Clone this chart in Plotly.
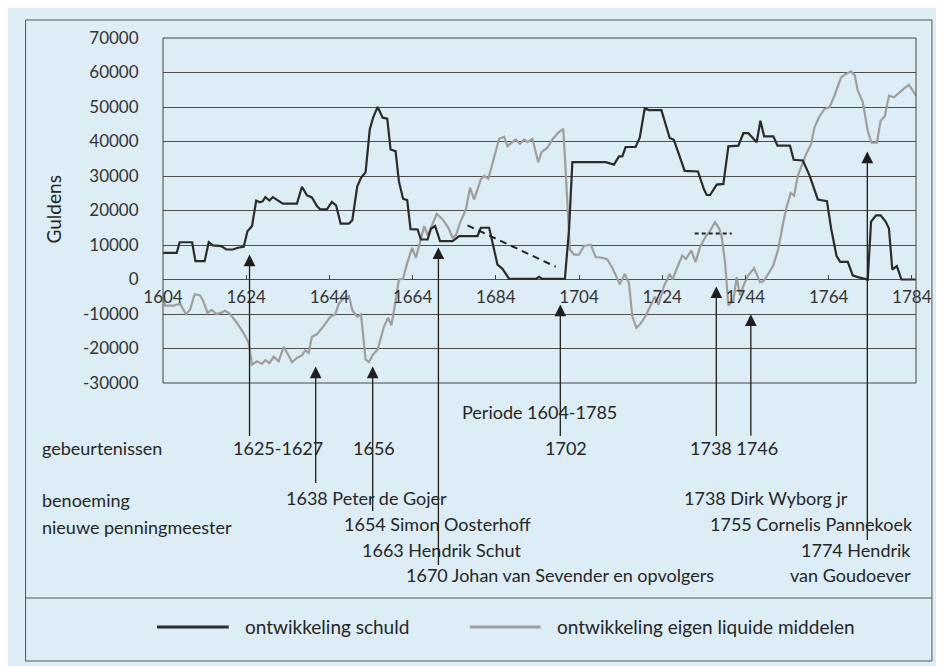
import plotly.graph_objects as go

# ---------------- data ----------------
schuld_years = [1604, 1607.3, 1608, 1611, 1611.8, 1614, 1615, 1616, 1618, 1619.2, 1620.8, 1622, 1623.4,
                1624.3, 1625.4, 1626.4, 1627.3, 1628, 1628.6, 1629.6, 1630.4, 1631.6, 1632.8, 1636.2,
                1637.4, 1638.6, 1639.8, 1641, 1641.8, 1643.4, 1644.6, 1645.6, 1646.7, 1648.7, 1649.5,
                1650.7, 1651.6, 1652.7, 1653.7, 1654.5, 1655.6, 1656.8, 1657.9, 1658.7, 1659.9, 1660.7,
                1661.7, 1662.7, 1663.5, 1665.2, 1666, 1667.6, 1668.4, 1669.4, 1670.6, 1673.6, 1675.2,
                1679.6, 1680.4, 1682.4, 1683.2, 1684.4, 1685.6, 1687.2, 1693.6, 1694.4, 1695.2, 1700.6,
                1701.6, 1702.4, 1710.4, 1712.4, 1713.6, 1714.4, 1715.2, 1717.6, 1718.6, 1719.8, 1720.8,
                1723.8, 1725.8, 1726.8, 1729.4, 1732.6, 1734, 1734.7, 1735.5, 1737.1, 1738.7, 1739.9,
                1742.3, 1743.5, 1744.7, 1746.7, 1747.6, 1748.5, 1750.7, 1751.7, 1754.7, 1755.6, 1757.8,
                1759.4, 1761.4, 1763.6, 1764.6, 1765.9, 1766.8, 1768.6, 1769.8, 1771, 1773.4, 1774.2,
                1775.4, 1776.5, 1777.7, 1778.5, 1779.3, 1780.4, 1781.5, 1785]
schuld_values = [7700, 7700, 10800, 10800, 5300, 5300, 10800, 9900, 9700, 8700, 8700, 9200, 9500,
                 14000, 15500, 22900, 22400, 22700, 23900, 22900, 23900, 22900, 22000, 22000,
                 26900, 24400, 23800, 21300, 20300, 20300, 22500, 21500, 16200, 16200, 17200,
                 27000, 29500, 31100, 43500, 46900, 50000, 46900, 46600, 37700, 37200, 28500,
                 23400, 23000, 14600, 14500, 11600, 11600, 14700, 15500, 11100, 11100, 12600,
                 12600, 15000, 15000, 10600, 4300, 3100, 200, 200, 800, 200, 200,
                 14500, 34000, 34000, 33300, 35700, 35700, 38400, 38400, 41100, 49600, 49100,
                 49100, 41000, 40500, 31500, 31300, 26200, 24500, 24500, 27500, 27700, 38600,
                 38800, 42400, 42400, 39800, 46000, 41500, 41500, 38800, 38800, 34700, 34500,
                 30200, 23200, 22700, 14800, 6800, 5100, 5100, 1200, 700, 0, 16800,
                 18600, 18600, 16800, 14800, 2900, 3900, 0, 0]

liquide_years = [1604, 1604.5, 1606.5, 1608.1, 1609.5, 1610.5, 1611.6, 1612.9, 1613.7, 1614.7, 1615.7,
                 1616.9, 1618.1, 1618.9, 1620.1, 1621.8, 1623.4, 1624.6, 1625.4, 1626.6, 1627.8, 1628.6,
                 1629.6, 1630.6, 1631.8, 1633.0, 1634.2, 1635.0, 1636.2, 1637.4, 1638.2, 1639.0, 1639.8,
                 1641.0, 1642.6, 1644.2, 1645.4, 1646.2, 1647.4, 1648.7, 1649.5, 1650.7, 1651.6, 1652.7,
                 1653.5, 1654.5, 1655.6, 1657.1, 1658.1, 1658.9, 1659.9, 1660.7, 1661.7, 1662.7, 1663.9,
                 1664.8, 1666.8, 1667.6, 1668.6, 1669.8, 1671.2, 1672.6, 1673.6, 1674.4, 1675.4, 1676.8,
                 1677.8, 1678.8, 1680.4, 1681.2, 1682.2, 1683.6, 1684.8, 1686.0, 1686.8, 1688.0, 1688.8,
                 1689.8, 1690.8, 1691.6, 1692.8, 1694.2, 1695.0, 1696.4, 1697.6, 1699.0, 1700.2, 1700.6,
                 1701.2, 1701.8, 1702.8, 1704.0, 1705.2, 1706.8, 1708.0, 1709.6, 1710.8, 1712.0, 1713.8,
                 1715.0, 1716.0, 1716.8, 1717.8, 1718.8, 1720.0, 1721.0, 1722.2, 1723.1, 1724.4, 1725.8,
                 1726.5, 1727.6, 1728.8, 1729.7, 1731.0, 1732.0, 1733.2, 1734.4, 1735.3, 1736.7, 1737.7,
                 1738.3, 1739.1, 1739.9, 1741.1, 1741.9, 1742.7, 1743.7, 1744.7, 1746.1, 1747.5, 1748.3,
                 1749.5, 1750.7, 1751.9, 1753.1, 1753.9, 1754.9, 1755.7, 1756.6, 1757.6, 1758.6, 1759.8,
                 1760.6, 1761.8, 1763.0, 1764.2, 1765.4, 1767.0, 1768.2, 1769.4, 1770.3, 1771.0, 1772.2,
                 1773.4, 1774.3, 1775.6, 1776.5, 1777.5, 1778.5, 1779.7, 1780.9, 1782.1, 1783.3, 1784.1,
                 1785]
liquide_values = [-3900, -7600, -7600, -7000, -10000, -8800, -4200, -4600, -6300, -9700, -8800,
                  -10000, -9600, -9000, -10000, -12600, -15600, -18400, -24700, -23700, -24400, -23400,
                  -24200, -22400, -23700, -19500, -22000, -24000, -22700, -22000, -20500, -21300, -16600,
                  -15900, -13500, -10800, -10100, -7200, -5300, -4800, -8900, -10800, -10100, -23200,
                  -23900, -21700, -20300, -13700, -11100, -13300, -6300, 0, 200, 4800, 9200,
                  6300, 15500, 12800, 15500, 19000, 17400, 15000, 12100, 12800, 16400, 20300,
                  26600, 23200, 29000, 30000, 29200, 35300, 40800, 41400, 38600, 39800, 40600,
                  39300, 40600, 39800, 40800, 34000, 36900, 38200, 40600, 42500, 43700, 35700,
                  21700, 8700, 7200, 7200, 9700, 10100, 6500, 6300, 5800, 3400, -1400,
                  1600, -1000, -10600, -14000, -12800, -10600, -8200, -5000, -7300, -2000, 1600,
                  0, 3500, 6900, 6000, 8400, 5000, 9800, 12300, 13700, 16600, 14700,
                  12300, 5000, -7500, -6100, 700, -4600, -1300, 1200, 3300, -800, -500,
                  1600, 4100, 8900, 16600, 21000, 25100, 24300, 30100, 33000, 36400, 39300,
                  44100, 47300, 49400, 49900, 53300, 58600, 59600, 60300, 59100, 54700, 51500,
                  43100, 39700, 39700, 46000, 47300, 53300, 52800, 54100, 55300, 56400, 54800,
                  53300]

trend_years = [1677.2, 1698.4]
trend_values = [15700, 3700]
level_years = [1731.8, 1740.7]
level_values = [13300, 13300]

x_tick_vals = [1604, 1624, 1644, 1664, 1684, 1704, 1724, 1744, 1764, 1784]
y_tick_vals = [-30000, -20000, -10000, 0, 10000, 20000, 30000, 40000, 50000, 60000, 70000]
y_tick_text = ["-30000", "-20000", "-10000", "0", "10000", "20000", "30000",
               "40000", "50000", "60000", "70000"]

event_years = [1624.8, 1640.7, 1654.4, 1670.2, 1699.5, 1737.0, 1745.3, 1773.3]
event_values = [7250, -25200, -25200, 9300, -7250, -2000, -10100, 37100]

# ---------------- layout helpers (reference page pixels) ----------------
PAGE_W, PAGE_H = 944, 666
OFF = 8                       # page body margin
W, H = PAGE_W - OFF, PAGE_H - OFF
L, R, T, B = 163, 919, 38, 383
FONT = "Lato"
TXT = "#262626"
BG = "#dcedf5"


def pxx(x):
    return (x - L) / (R - L)


def pxy(y):
    return (B - y) / (B - T)


fig = go.Figure()
fig.add_trace(go.Scatter(x=liquide_years, y=liquide_values, mode="lines",
                         line=dict(color="#9e9e9e", width=2.2), name="ontwikkeling eigen liquide middelen",
                         showlegend=False))
fig.add_trace(go.Scatter(x=schuld_years, y=schuld_values, mode="lines",
                         line=dict(color="#2b2b2b", width=2.2), name="ontwikkeling schuld",
                         showlegend=False))
fig.add_trace(go.Scatter(x=trend_years, y=trend_values, mode="lines",
                         line=dict(color="#222222", width=2, dash="7px,5px"), showlegend=False))
fig.add_trace(go.Scatter(x=level_years, y=level_values, mode="lines",
                         line=dict(color="#222222", width=2, dash="4px,3px"), showlegend=False))

shapes = []
# outer frame and separator
shapes.append(dict(type="rect", xref="paper", yref="paper", x0=pxx(25), x1=pxx(935), y0=pxy(661), y1=pxy(20),
                   line=dict(color="#555555", width=1)))
shapes.append(dict(type="line", xref="paper", yref="paper", x0=pxx(25), x1=pxx(935), y0=pxy(598), y1=pxy(598),
                   line=dict(color="#555555", width=1)))
# plot frame
shapes.append(dict(type="rect", xref="paper", yref="paper", x0=0, x1=1, y0=0, y1=1,
                   line=dict(color="#444444", width=1)))
# legend samples
shapes.append(dict(type="line", xref="paper", yref="paper", x0=pxx(157), x1=pxx(229), y0=pxy(627), y1=pxy(627),
                   line=dict(color="#2b2b2b", width=3)))
shapes.append(dict(type="line", xref="paper", yref="paper", x0=pxx(471), x1=pxx(542), y0=pxy(627), y1=pxy(627),
                   line=dict(color="#9e9e9e", width=3)))

annotations = []
# arrows
arrow_tails = [183, 118, 146, 319, 133, 151, 123, 390]
for ex, ev, tail in zip(event_years, event_values, arrow_tails):
    annotations.append(dict(x=ex, y=ev, xref="x", yref="y", text="", showarrow=True,
                            ax=0, ay=tail, arrowhead=2, arrowsize=1.8, arrowwidth=1.3,
                            arrowcolor="#1e1e1e", standoff=0))


def txt(s, x, y, anchor="left", size=18):
    annotations.append(dict(text=s, x=pxx(x), y=pxy(y), xref="paper", yref="paper",
                            xanchor=anchor, yanchor="middle", showarrow=False,
                            font=dict(family=FONT, size=size, color=TXT)))


txt("Guldens", 53, 209, "center", 19)
annotations[-1]["textangle"] = -90
txt("Periode 1604-1785", 541, 412, "center")
txt("gebeurtenissen", 40, 448)
txt("1625-1627", 278.5, 448, "center")
txt("1656", 375, 448, "center")
txt("1702", 568, 448, "center")
txt("1738 1746", 736, 448, "center")
txt("benoeming", 40, 500)
txt("nieuwe penningmeester", 40, 527)
txt("1638 Peter de Gojer", 367.5, 498, "center")
txt("1654 Simon Oosterhoff", 438.5, 524, "center")
txt("1663 Hendrik Schut", 442.5, 550, "center")
txt("1670 Johan van Sevender en opvolgers", 561.5, 575, "center")
txt("1738 Dirk Wyborg jr", 768, 498, "center")
txt("1755 Cornelis Pannekoek", 814, 524, "center")
txt("1774 Hendrik", 858.5, 550, "center")
txt("van Goudoever", 853, 575, "center")
txt("ontwikkeling schuld", 243, 626, size=19)
txt("ontwikkeling eigen liquide middelen", 557, 626, size=19)

fig.update_layout(
    width=W, height=H, autosize=False,
    margin=dict(l=L - OFF, r=PAGE_W - R, t=T - OFF, b=PAGE_H - B, pad=0),
    paper_bgcolor=BG, plot_bgcolor="rgba(0,0,0,0)",
    font=dict(family=FONT, size=17, color=TXT),
    showlegend=False,
    xaxis=dict(range=[1604, 1785], tickvals=x_tick_vals, ticks="inside", ticklen=5, tickcolor="#444444",
               showgrid=False, zeroline=False, showline=False, anchor="free", position=0.3,
               ticklabelstandoff=5,
               tickfont=dict(family=FONT, size=17, color="#333333")),
    yaxis=dict(range=[-30000, 70000], tickvals=y_tick_vals, ticktext=y_tick_text, showgrid=True,
               gridcolor="#4d4d4d", gridwidth=1, zeroline=False, showline=False,
               ticks="outside", ticklen=20, tickcolor="rgba(0,0,0,0)",
               tickfont=dict(family=FONT, size=17, color="#333333")),
    shapes=shapes, annotations=annotations,
)

fig.write_html("out.html")
